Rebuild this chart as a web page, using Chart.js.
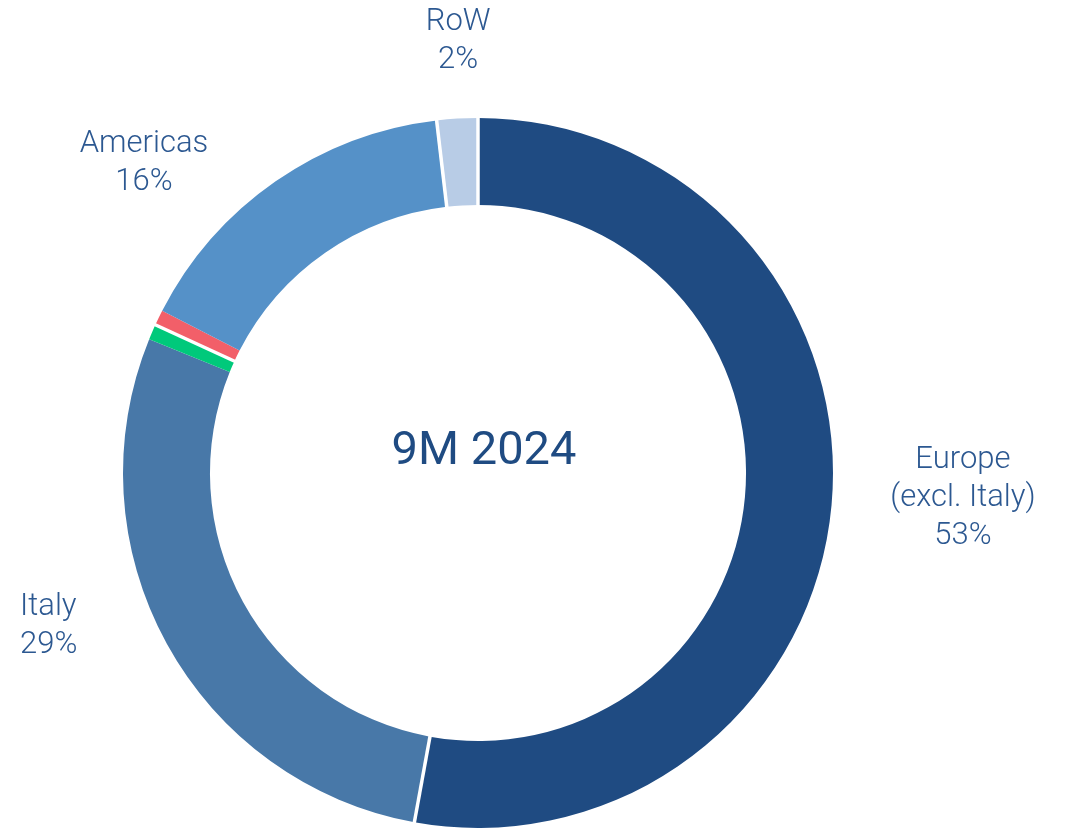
<!DOCTYPE html>
<html>
<head>
<meta charset="utf-8">
<script src="https://cdn.jsdelivr.net/npm/chart.js@4.4.1/dist/chart.umd.min.js"></script>
<style>
    body { margin: 0; background: #ffffff; }
    #wrap { width: 1071px; height: 829px; position: relative; }
</style>
</head>
<body>
<div id="wrap"><canvas id="graficoArea"></canvas></div>
<script>
var regions = ['Europe (excl. Italy)', 'Italy', 'Other A', 'Other B', 'Americas', 'RoW'];
var shares = [52.9, 28.3, 0.7, 0.7, 15.6, 1.86];
var labelNames = [['Europe', '(excl. Italy)'], ['Italy'], [], [], ['Americas'], ['RoW']];
var labelPerc = ['53%', '29%', '', '', '16%', '2%'];
var colors = ['#1f4b82', '#4878a8', '#00c97b', '#f25f69', '#5591c8', '#b8cce6'];
var centerTitle = '9M 2024';

// label anchors relative to the ring centre, in outer radii
var labelPos = [
    { x: 1.366, y: 0.062, align: 'center' },
    { x: -1.290, y: 0.423, align: 'left' },
    null,
    null,
    { x: -0.941, y: -0.882, align: 'center' },
    { x: -0.056, y: -1.225, align: 'center' }
];
// white separators drawn at the start of these slices
var gapAt = [0, 1, 3, 5];

var ringExtras = {
    id: 'ringExtras',
    afterDatasetsDraw: function (chart) {
        var ctx = chart.ctx;
        var meta = chart.getDatasetMeta(0);
        var arc0 = meta.data[0];
        var cx = arc0.x, cy = arc0.y;
        var R = arc0.outerRadius, r = arc0.innerRadius;

        ctx.save();
        ctx.strokeStyle = '#ffffff';
        ctx.lineWidth = 3.5;
        for (var g = 0; g < gapAt.length; g++) {
            var a = meta.data[gapAt[g]].startAngle;
            ctx.beginPath();
            ctx.moveTo(cx + Math.cos(a) * (r - 2), cy + Math.sin(a) * (r - 2));
            ctx.lineTo(cx + Math.cos(a) * (R + 2), cy + Math.sin(a) * (R + 2));
            ctx.stroke();
        }

        ctx.fillStyle = '#2c5891';
        ctx.font = '300 31px Roboto';
        var lh = 38;
        var cap = 31 * 0.711;
        for (var i = 0; i < shares.length; i++) {
            var p = labelPos[i];
            if (!p) continue;
            var lines = labelNames[i].concat([labelPerc[i]]);
            var ax = cx + p.x * R;
            var ay = cy + p.y * R;
            var first = ay - (lines.length - 1) * lh / 2 + cap / 2;
            ctx.textAlign = p.align;
            ctx.textBaseline = 'alphabetic';
            for (var k = 0; k < lines.length; k++) {
                ctx.fillText(lines[k], ax, first + k * lh);
            }
        }

        ctx.fillStyle = '#1f4b82';
        ctx.font = '400 47px Roboto';
        ctx.textAlign = 'center';
        ctx.textBaseline = 'alphabetic';
        ctx.fillText(centerTitle, cx + 6, cy - 26 + 47 * 0.711 / 2);
        ctx.restore();
    }
};

var chartdata = {
    labels: regions,
    datasets: [
        {
            data: shares,
            backgroundColor: colors,
            borderWidth: 0,
            hoverOffset: 0
        }
    ]
};

var graphTarget = document.getElementById('graficoArea');

var donut = new Chart(graphTarget, {
    type: 'doughnut',
    data: chartdata,
    options: {
        responsive: true,
        maintainAspectRatio: false,
        animation: false,
        cutout: '75.5%',
        layout: { padding: { left: 123, right: 238, top: 118, bottom: 1 } },
        plugins: {
            legend: { display: false },
            tooltip: { enabled: false }
        }
    },
    plugins: [ringExtras]
});
</script>
</body>
</html>
